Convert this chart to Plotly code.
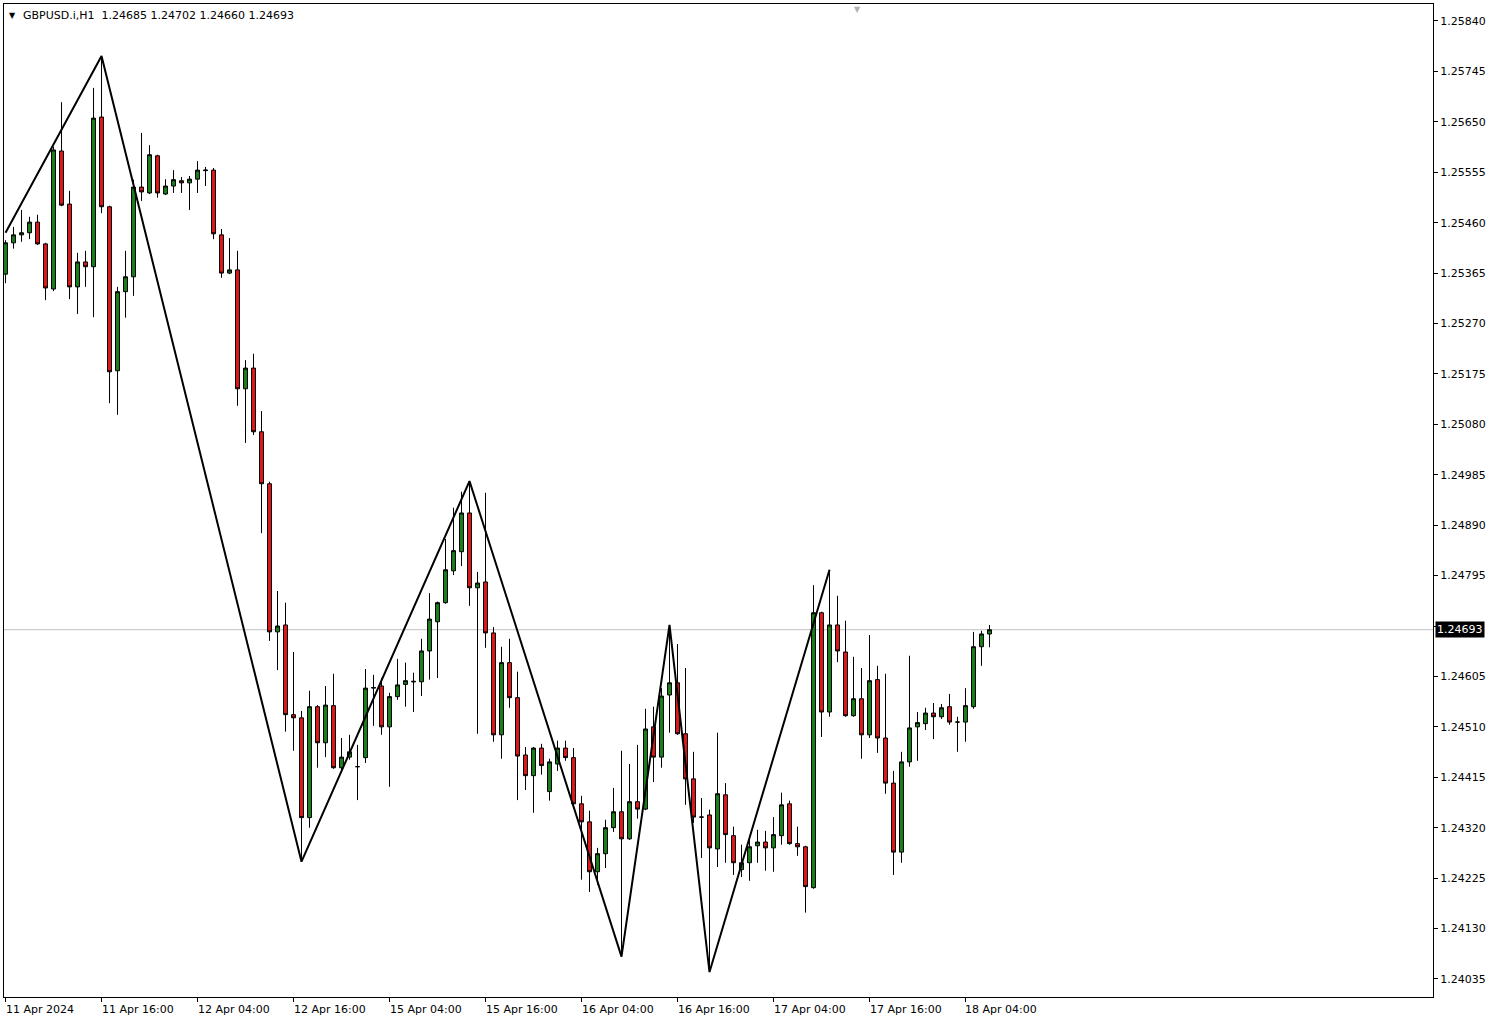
import plotly.graph_objects as go

# ---------------- data (GBPUSD.i, H1) ----------------
opens = [1.25363, 1.25422, 1.25437, 1.25441, 1.25461, 1.25420, 1.25335, 1.25595, 1.25495, 1.25339,
         1.25386, 1.25377, 1.25659, 1.25490, 1.25181, 1.25330, 1.25358, 1.25527, 1.25516, 1.25586,
         1.25514, 1.25529, 1.25539, 1.25535, 1.25542, 1.25558, 1.25559, 1.25437, 1.25365, 1.25371,
         1.25147, 1.25186, 1.25066, 1.24968, 1.24689, 1.24702, 1.24533, 1.24527, 1.24339, 1.24548,
         1.24480, 1.24550, 1.24433, 1.24453, 1.24435, 1.24452, 1.24583, 1.24587, 1.24510, 1.24567,
         1.24590, 1.24596, 1.24595, 1.24653, 1.24708, 1.24744, 1.24804, 1.24840, 1.24913, 1.24772,
         1.24783, 1.24687, 1.24495, 1.24631, 1.24565, 1.24457, 1.24418, 1.24470, 1.24388, 1.24440,
         1.24470, 1.24452, 1.24365, 1.24331, 1.24237, 1.24271, 1.24320, 1.24350, 1.24299, 1.24369,
         1.24355, 1.24510, 1.24453, 1.24570, 1.24593, 1.24497, 1.24412, 1.24340, 1.24344, 1.24280,
         1.24382, 1.24305, 1.24241, 1.24254, 1.24286, 1.24293, 1.24282, 1.24305, 1.24365, 1.24290,
         1.24284, 1.24207, 1.24725, 1.24538, 1.24702, 1.24651, 1.24531, 1.24563, 1.24495, 1.24599,
         1.24489, 1.24404, 1.24274, 1.24444, 1.24510, 1.24516, 1.24536, 1.24529, 1.24548, 1.24519,
         1.24519, 1.24548, 1.24661, 1.24685]

highs = [1.25427, 1.25452, 1.25484, 1.25471, 1.25475, 1.25422, 1.25603, 1.25687, 1.25520, 1.25403,
         1.25407, 1.25714, 1.25774, 1.25492, 1.25339, 1.25407, 1.25541, 1.25629, 1.25606, 1.25588,
         1.25542, 1.25559, 1.25546, 1.25548, 1.25576, 1.25565, 1.25563, 1.25448, 1.25431, 1.25407,
         1.25201, 1.25213, 1.25105, 1.24972, 1.24766, 1.24744, 1.24651, 1.24540, 1.24578, 1.24551,
         1.24587, 1.24610, 1.24489, 1.24495, 1.24476, 1.24619, 1.24608, 1.24602, 1.24574, 1.24638,
         1.24631, 1.24612, 1.24676, 1.24762, 1.24746, 1.24864, 1.24923, 1.24953, 1.24973, 1.24802,
         1.24951, 1.24698, 1.24661, 1.24676, 1.24614, 1.24472, 1.24472, 1.24478, 1.24450, 1.24484,
         1.24484, 1.24470, 1.24380, 1.24352, 1.24282, 1.24335, 1.24395, 1.24465, 1.24440, 1.24476,
         1.24544, 1.24548, 1.24583, 1.24702, 1.24666, 1.24621, 1.24463, 1.24376, 1.24354, 1.24499,
         1.24404, 1.24322, 1.24288, 1.24303, 1.24316, 1.24314, 1.24340, 1.24386, 1.24371, 1.24322,
         1.24286, 1.24777, 1.24727, 1.24806, 1.24757, 1.24710, 1.24642, 1.24621, 1.24683, 1.24625,
         1.24610, 1.24427, 1.24463, 1.24644, 1.24538, 1.24546, 1.24555, 1.24553, 1.24572, 1.24529,
         1.24583, 1.24689, 1.24691, 1.24702]

lows = [1.25346, 1.25411, 1.25424, 1.25429, 1.25418, 1.25314, 1.25331, 1.25491, 1.25316, 1.25288,
        1.25339, 1.25282, 1.25478, 1.25120, 1.25098, 1.25281, 1.25322, 1.25501, 1.25514, 1.25507,
        1.25512, 1.25516, 1.25516, 1.25484, 1.25516, 1.25529, 1.25429, 1.25356, 1.25363, 1.25115,
        1.25045, 1.25060, 1.24875, 1.24672, 1.24617, 1.24501, 1.24465, 1.24256, 1.24320, 1.24433,
        1.24453, 1.24431, 1.24423, 1.24448, 1.24372, 1.24442, 1.24512, 1.24495, 1.24397, 1.24561,
        1.24548, 1.24538, 1.24568, 1.24599, 1.24602, 1.24742, 1.24796, 1.24813, 1.24738, 1.24497,
        1.24659, 1.24482, 1.24450, 1.24546, 1.24372, 1.24391, 1.24348, 1.24420, 1.24371, 1.24427,
        1.24446, 1.24363, 1.24222, 1.24199, 1.24212, 1.24244, 1.24312, 1.24077, 1.24297, 1.24337,
        1.24353, 1.24406, 1.24433, 1.24499, 1.24495, 1.24363, 1.24329, 1.24263, 1.24048, 1.24246,
        1.24254, 1.24231, 1.24227, 1.24220, 1.24254, 1.24239, 1.24237, 1.24288, 1.24288, 1.24267,
        1.24160, 1.24205, 1.24491, 1.24529, 1.24632, 1.24529, 1.24529, 1.24450, 1.24489, 1.24461,
        1.24384, 1.24231, 1.24254, 1.24435, 1.24446, 1.24504, 1.24487, 1.24525, 1.24514, 1.24463,
        1.24482, 1.24544, 1.24625, 1.24660]

closes = [1.25422, 1.25437, 1.25441, 1.25461, 1.25420, 1.25337, 1.25597, 1.25493, 1.25339, 1.25386,
          1.25377, 1.25657, 1.25490, 1.25179, 1.25330, 1.25358, 1.25527, 1.25518, 1.25588, 1.25516,
          1.25529, 1.25541, 1.25535, 1.25542, 1.25559, 1.25559, 1.25439, 1.25365, 1.25371, 1.25147,
          1.25186, 1.25066, 1.24968, 1.24689, 1.24700, 1.24533, 1.24527, 1.24339, 1.24548, 1.24480,
          1.24551, 1.24433, 1.24453, 1.24463, 1.24435, 1.24583, 1.24584, 1.24510, 1.24567, 1.24589,
          1.24597, 1.24595, 1.24653, 1.24713, 1.24744, 1.24806, 1.24842, 1.24913, 1.24772, 1.24781,
          1.24687, 1.24495, 1.24631, 1.24565, 1.24455, 1.24418, 1.24470, 1.24437, 1.24444, 1.24470,
          1.24452, 1.24365, 1.24331, 1.24237, 1.24271, 1.24320, 1.24350, 1.24299, 1.24369, 1.24355,
          1.24506, 1.24453, 1.24568, 1.24593, 1.24497, 1.24412, 1.24340, 1.24340, 1.24282, 1.24384,
          1.24307, 1.24254, 1.24254, 1.24284, 1.24293, 1.24282, 1.24307, 1.24363, 1.24290, 1.24284,
          1.24209, 1.24725, 1.24538, 1.24702, 1.24653, 1.24531, 1.24563, 1.24495, 1.24597, 1.24489,
          1.24404, 1.24274, 1.24444, 1.24508, 1.24518, 1.24536, 1.24529, 1.24546, 1.24519, 1.24519,
          1.24550, 1.24661, 1.24685, 1.24693]

bar_index = list(range(len(opens)))

# ZigZag turning points (bar index, price)
zz_index = [0, 12, 37, 58, 77, 83, 88, 103]
zz_price = [1.25441, 1.25774, 1.24256, 1.24973, 1.24077, 1.24702, 1.24048, 1.24806]

# time axis labels (bar index where label starts)
time_label_index = [0, 12, 24, 36, 48, 60, 72, 84, 96, 108, 120]
time_labels = ["11 Apr 2024", "11 Apr 16:00", "12 Apr 04:00", "12 Apr 16:00", "15 Apr 04:00",
               "15 Apr 16:00", "16 Apr 04:00", "16 Apr 16:00", "17 Apr 04:00", "17 Apr 16:00",
               "18 Apr 04:00"]

# price scale
price_ticks = [1.24035, 1.24130, 1.24225, 1.24320, 1.24415, 1.24510, 1.24605, 1.24700,
               1.24795, 1.24890, 1.24985, 1.25080, 1.25175, 1.25270, 1.25365, 1.25460,
               1.25555, 1.25650, 1.25745, 1.25840]

symbol = "GBPUSD.i,H1"
last_ohlc = [1.24685, 1.24702, 1.24660, 1.24693]
current_price = 1.24693

# ---------------- figure ----------------
FONT = "DejaVu Sans"
GREEN = "#1a801a"
RED = "#e01a1a"

fig = go.Figure()

fig.add_trace(go.Candlestick(
    x=bar_index, open=opens, high=highs, low=lows, close=closes,
    increasing=dict(line=dict(color="black", width=1), fillcolor=GREEN),
    decreasing=dict(line=dict(color="black", width=1), fillcolor=RED),
    whiskerwidth=0,
    showlegend=False,
    hoverinfo="skip",
))

fig.add_trace(go.Scatter(
    x=zz_index, y=zz_price, mode="lines",
    line=dict(color="black", width=2),
    showlegend=False, hoverinfo="skip",
))

# current price line
fig.add_shape(type="line", xref="paper", x0=0, x1=1, yref="y",
              y0=current_price, y1=current_price,
              line=dict(color="#c0c0c0", width=1), layer="below")

ticktext = []
for v in price_ticks:
    if abs(v - current_price) < 0.0003:
        ticktext.append("")
    else:
        ticktext.append(f"{v:.5f}")

annotations = []
for i, lab in zip(time_label_index, time_labels):
    annotations.append(dict(
        x=i, xref="x", y=0, yref="paper", yanchor="top", xanchor="left",
        xshift=-2, yshift=-4, text=lab, showarrow=False,
        font=dict(family=FONT, size=11, color="black"),
    ))

hdr = "\u25BC"
annotations.append(dict(
    x=0, xref="paper", y=1, yref="paper", xanchor="left", yanchor="top",
    xshift=3, yshift=-5, text=hdr, showarrow=False,
    font=dict(family=FONT, size=8, color="black"),
))
title_txt = symbol + "\u00a0\u00a0" + " ".join(f"{v:.5f}" for v in last_ohlc)
annotations.append(dict(
    x=0, xref="paper", y=1, yref="paper", xanchor="left", yanchor="top",
    xshift=17, yshift=-3, text=title_txt, showarrow=False,
    font=dict(family=FONT, size=11, color="black"),
))
# chart-shift marker
annotations.append(dict(
    x=0.5976, xref="paper", y=1, yref="paper", xanchor="center", yanchor="top",
    yshift=1, text="\u25BC", showarrow=False,
    font=dict(family=FONT, size=8, color="#b0b0b0"),
))
# current price box
annotations.append(dict(
    x=1, xref="paper", y=current_price, yref="y", xanchor="left", yanchor="middle",
    xshift=2, text=f"{current_price:.5f}", showarrow=False,
    bgcolor="black", borderpad=1,
    font=dict(family=FONT, size=11, color="white"),
))

fig.update_layout(
    width=1499, height=1024,
    margin=dict(l=4, r=66, t=4, b=27),
    paper_bgcolor="white", plot_bgcolor="white",
    annotations=annotations,
    boxgap=0.3,
    hovermode=False,
    xaxis=dict(
        range=[-0.19, 178.44], rangeslider=dict(visible=False),
        showgrid=False, zeroline=False,
        showline=True, linecolor="black", linewidth=1, mirror=True,
        ticks="outside", ticklen=4, tickcolor="black",
        tickvals=time_label_index, showticklabels=False,
    ),
    yaxis=dict(
        range=[1.24001, 1.25872], side="right",
        showgrid=False, zeroline=False,
        showline=True, linecolor="black", linewidth=1, mirror=True,
        ticks="outside", ticklen=4, tickcolor="black",
        tickvals=price_ticks, ticktext=ticktext,
        tickfont=dict(family=FONT, size=11, color="black"),
    ),
)

fig.write_html(
    "out.html",
    config={"displayModeBar": False},
    post_script="document.body.style.margin='0';document.body.style.overflow='hidden';",
)
